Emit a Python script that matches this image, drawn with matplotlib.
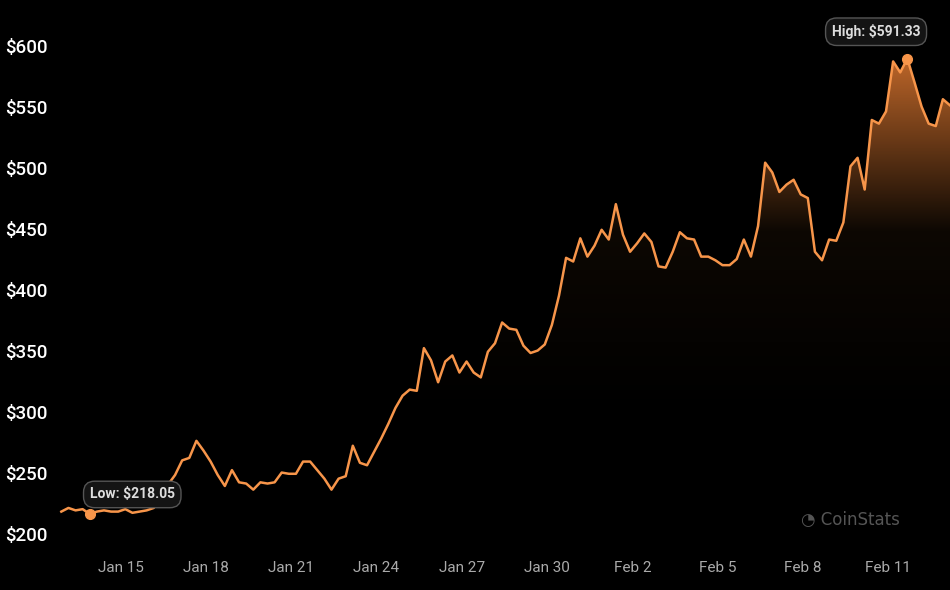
import numpy as np
import pandas as pd
import matplotlib
matplotlib.use("Agg")
import matplotlib.pyplot as plt
import matplotlib.dates as mdates
from matplotlib.colors import LinearSegmentedColormap

# 6-hourly prices
prices = [
    220, 223, 221, 222, 218.05, 220, 221, 220, 220, 222, 219, 220, 221, 223, 233, 242, 250,
    262, 264, 278, 270, 261, 250, 241, 254, 244, 243, 238, 244, 243, 244, 252, 251,
    251, 261, 261, 254, 247, 238, 247, 249, 274, 260, 258, 269, 280, 292, 305, 315,
    320, 319, 354, 344, 326, 343, 348, 334, 343, 334, 330, 351, 358, 375, 370, 369,
    356, 350, 352, 357, 373, 397, 428, 425, 444, 429, 438, 451, 443, 472, 447, 433,
    440, 448, 441, 421, 420, 433, 449, 444, 443, 429, 429, 426, 422, 422, 427, 443,
    429, 454, 506, 498, 482, 488, 492, 480, 477, 433, 426, 443, 442, 457, 503, 510,
    484, 541, 538, 548, 589, 580, 591.33, 572, 552, 538, 536, 558, 553,
]
times = pd.date_range("2024-01-12 22:00", periods=len(prices), freq="6h")
y_ticks = [200, 250, 300, 350, 400, 450, 500, 550, 600]
x_ticks = pd.to_datetime(["2024-01-15", "2024-01-18", "2024-01-21", "2024-01-24", "2024-01-27",
                          "2024-01-30", "2024-02-02", "2024-02-05", "2024-02-08", "2024-02-11"])
x_labels = ["Jan 15", "Jan 18", "Jan 21", "Jan 24", "Jan 27",
            "Jan 30", "Feb 2", "Feb 5", "Feb 8", "Feb 11"]

plt.rcParams["font.family"] = ["Roboto", "DejaVu Sans"]
LINE = "#f7954a"

fig = plt.figure(figsize=(9.5, 5.9), dpi=100, facecolor="black")
ax = fig.add_axes([0, 0, 1, 1], facecolor="black")
ax.set_axis_off()

t = mdates.date2num(times)
px_day = 28.75
xl = (t[0] - 62 / px_day, t[-1])
yl = (200 - 54 / 1.22, 600 + 48 / 1.22)
y0 = yl[0]

# gradient fill under the line
cmap = LinearSegmentedColormap.from_list("g", [(0, 0, 0), (0.05, 0.03, 0.01), (0.78, 0.42, 0.17)])
grad = np.linspace(0, 1, 256).reshape(-1, 1)
ax.imshow(grad, cmap=cmap, aspect="auto", origin="lower",
          extent=[t[0], t[-1], 300, 600], zorder=1)
ax.imshow(np.zeros((2, 2)), cmap=cmap, aspect="auto", extent=[t[0], t[-1], y0, 300], zorder=1)
poly = ax.fill_between(t, prices, y0, facecolor="none", edgecolor="none")
path = poly.get_paths()[0]
for img in ax.images:
    img.set_clip_path(path, transform=ax.transData)
ax.set_xlim(*xl)
ax.set_ylim(*yl)

ax.plot(t, prices, color=LINE, lw=1.8, zorder=3)

for v in y_ticks:
    ax.text(0.005, v, f"${v}", transform=ax.get_yaxis_transform(), color="white",
            fontsize=13.5, fontweight="medium", va="center", ha="left", zorder=4)
for d, lab in zip(x_ticks, x_labels):
    ax.text(mdates.date2num(d), 174, lab, color="#aaaaaa", fontsize=11, ha="center", va="center")

# low / high markers
lo = int(np.argmin(prices))
hi = int(np.argmax(prices))
box = dict(boxstyle="round,pad=0.45,rounding_size=0.8", fc="#141414", ec="#555555", lw=1)
ax.plot(t[lo], prices[lo], "o", color=LINE, ms=7, zorder=5)
ax.text(t[lo], prices[lo] + 16, f"Low: ${prices[lo]:.2f}", color="#dddddd", fontsize=10,
        fontweight="bold", ha="left", va="center", bbox=box, zorder=6)
ax.plot(t[hi], prices[hi], "o", color=LINE, ms=7, zorder=5)
ax.text(t[hi] - 1.1, prices[hi] + 22, f"High: ${prices[hi]:.2f}", color="#dddddd", fontsize=10,
        fontweight="bold", ha="center", va="center", bbox=box, zorder=6)

ax.text(0.895, 0.118, "◔ CoinStats", transform=ax.transAxes, color="#555555",
        fontsize=12, ha="center", va="center", family=["DejaVu Sans"])

fig.savefig("out.png", dpi=100, facecolor="black")
